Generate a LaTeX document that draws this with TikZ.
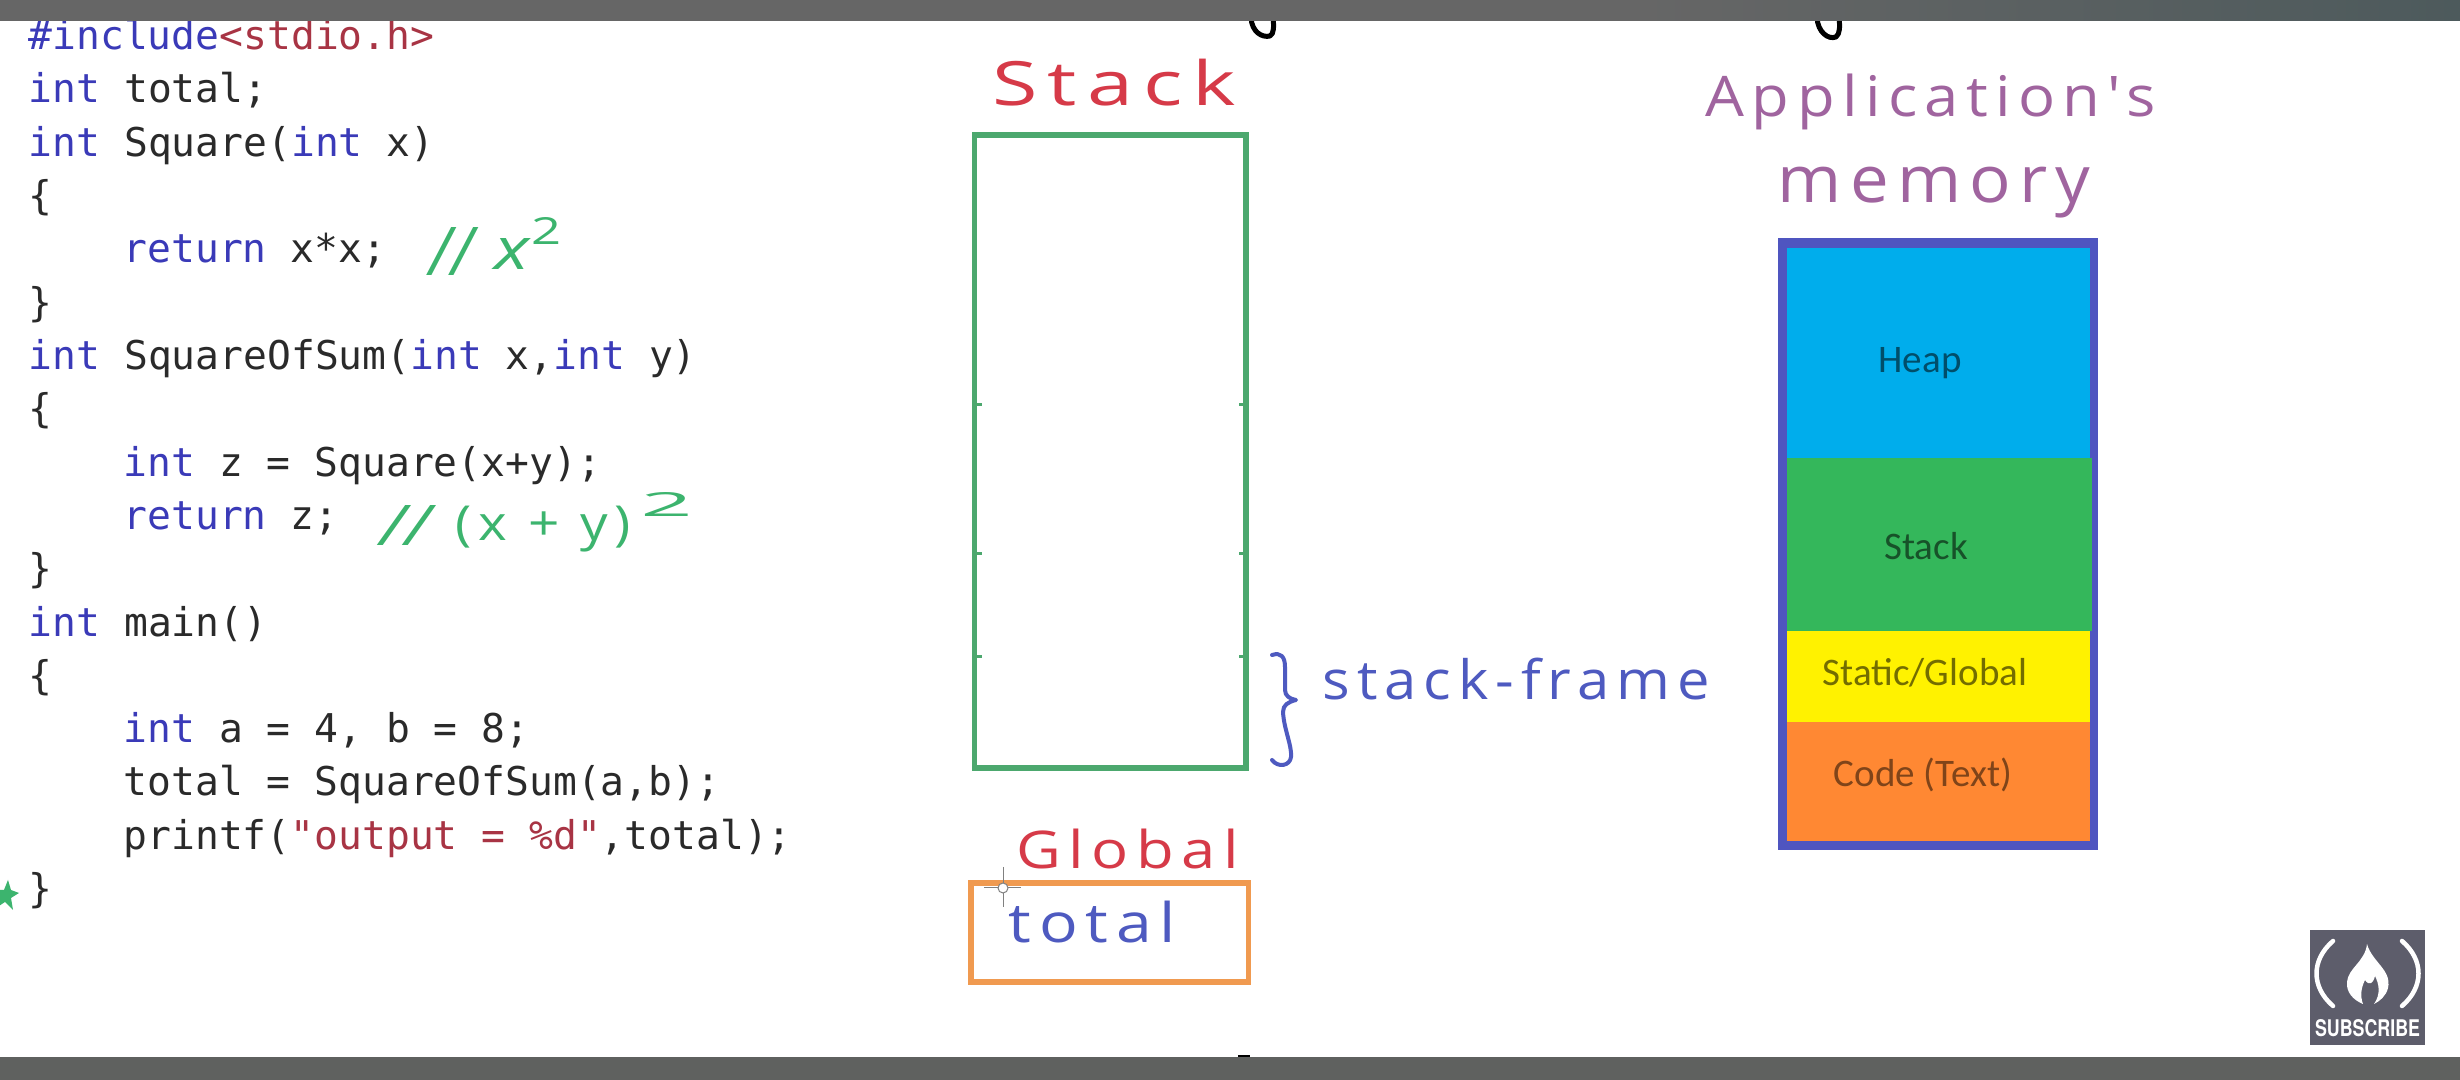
\documentclass[tikz,border=0pt]{standalone}
\usepackage{fontspec}
\setmainfont{Carlito}
\newfontfamily\codefont{DejaVu Sans Mono}
\newfontfamily\handfont[LetterSpace=12]{Open Sans}
\newfontfamily\handplain{Open Sans}
\newfontfamily\badgefont{TeX Gyre Heros}
\definecolor{barc}{HTML}{666666}
\definecolor{barb}{HTML}{5F615F}
\definecolor{barr}{HTML}{4D5A5C}
\definecolor{kw}{HTML}{3A3AB8}
\definecolor{str}{HTML}{A83444}
\definecolor{ink}{HTML}{2A2A2A}
\definecolor{hgreen}{HTML}{3CB46E}
\definecolor{hred}{HTML}{D63A48}
\definecolor{hblue}{HTML}{4E5AC0}
\definecolor{hpurple}{HTML}{A0649F}
\definecolor{bgreen}{HTML}{4CA86E}
\definecolor{borange}{HTML}{F09A50}
\definecolor{mborder}{HTML}{4F55C0}
\definecolor{mheap}{HTML}{00ADEC}
\definecolor{mstack}{HTML}{34B75B}
\definecolor{mstatic}{HTML}{FFF200}
\definecolor{mcode}{HTML}{FF8833}
\definecolor{badge}{HTML}{5D5D6B}
\newlength\pxu \setlength\pxu{0.01cm}
\newcommand{\K}[1]{\textcolor{kw}{#1}}
\newcommand{\Q}[1]{\textcolor{str}{#1}}
\newcommand{\hw}[3]{\resizebox*{#1\pxu}{#2\pxu}{#3}}
\tikzset{
  codeline/.style={anchor=base west,inner sep=0pt,text=ink,font=\codefont\fontsize{11.27pt}{13pt}\selectfont},
  handtext/.style={anchor=north west,inner sep=0pt},
  memlabel/.style={anchor=center,inner sep=0pt,font=\fontsize{11.1pt}{13pt}\selectfont},
  stackbox/.style={draw=bgreen,line width=5.5\pxu},
  globalbox/.style={draw=borange,line width=5.5\pxu},
  tickmark/.style={draw=bgreen,line width=3\pxu},
  blackmark/.style={draw=black,line width=5\pxu,line cap=round,line join=round},
  white paren/.style={draw=white,line width=4.5\pxu,line cap=round}
}
\begin{document}
\begin{tikzpicture}[x=0.01cm,y=-0.01cm]
\useasboundingbox (0,0) rectangle (2460,1080);
\fill[white] (0,0) rectangle (2460,1080);
% code
\node[codeline] (l0) at (28,50) {\K{\#include}\Q{<stdio.h>}};
\node[codeline] (l1) at (28,103) {\K{int} total;};
\node[codeline] (l2) at (28,157) {\K{int} Square(\K{int} x)};
\node[codeline] (l3) at (28,210) {\{};
\node[codeline] (l4) at (123,263) {\K{return} x*x;};
\node[codeline] (l5) at (28,316.5) {\}};
\node[codeline] (l6) at (28,370) {\K{int} SquareOfSum(\K{int} x,\K{int} y)};
\node[codeline] (l7) at (28,423) {\{};
\node[codeline] (l8) at (123,476.5) {\K{int} z = Square(x+y);};
\node[codeline] (l9) at (123,530) {\K{return} z;};
\node[codeline] (l10) at (28,583) {\}};
\node[codeline] (l11) at (28,636.5) {\K{int} main()};
\node[codeline] (l12) at (28,690) {\{};
\node[codeline] (l13) at (123,743) {\K{int} a = 4, b = 8;};
\node[codeline] (l14) at (123,796) {total = SquareOfSum(a,b);};
\node[codeline] (l15) at (123,850) {printf(\Q{"output = \%d"},total);};
\node[codeline] (l16) at (28,903) {\}};
% green notes
\node[handtext,text=hgreen] (n1a) at (429,227) {\hw{44}{48}{\handplain\itshape //}};
\node[handtext,text=hgreen] (n1b) at (494,238) {\hw{35}{31}{\handplain\itshape x}};
\node[handtext,text=hgreen] (n1c) at (531,217) {\hw{30}{27}{\handplain 2}};
\node[handtext,text=hgreen] (n2a) at (380,505) {\hw{50}{40}{\handplain\itshape //}};
\node[handtext,text=hgreen] (n2b) at (455,505) {\hw{175}{46}{\handfont (x + y)}};
\node[handtext,text=hgreen] (n2c) at (640,492) {\hw{52}{24}{\handplain 2}};
\fill[hgreen] (8,880)--(11,890)--(19,893)--(11,898)--(13,910)--(5,902)--(-4,908)--(-2,897)--(-8,890)--(4,890)--cycle;
% stack
\node[handtext,text=hred] (stacktitle) at (992,58) {\hw{243}{47}{\handfont Stack}};
\draw[stackbox] (974.5,135) rectangle (1246,768);
\foreach \yy in {405,554,657}{
  \draw[tickmark] (972,\yy) -- (982,\yy);
  \draw[tickmark] (1239,\yy) -- (1249,\yy);
}
\node[handtext,text=hblue] (frame) at (1322,657) {\hw{387}{42}{\handfont stack-frame}};
\draw[draw=hblue,line width=4\pxu,line cap=round,line join=round]
  (1272,655) .. controls (1281,652) and (1285,657) .. (1285,667)
  -- (1285,690) .. controls (1285,696) and (1290,699) .. (1296,700)
  .. controls (1288,702) and (1283,705) .. (1283,712)
  .. controls (1284,730) and (1292,745) .. (1291,757)
  .. controls (1290,766) and (1278,768) .. (1272,760);
% global
\node[handtext,text=hred] (globaltitle) at (1016,828) {\hw{222}{40}{\handfont Global}};
\draw[globalbox] (971,883) rectangle (1248.5,982);
\node[handtext,text=hblue] (totalv) at (1008,900) {\hw{167}{42}{\handfont total}};
\draw[gray,line width=1\pxu] (984,888) -- (1021,888) (1003,867) -- (1003,907);
\draw[gray,fill=white,line width=1\pxu] (1003,888) circle (5);
% application memory
\node[handtext,text=hpurple] (app) at (1705,73) {\hw{450}{56}{\handfont Application's}};
\node[handtext,text=hpurple] (mem) at (1777,166) {\hw{313}{51}{\handfont memory}};
\fill[mborder] (1778,238) rectangle (2097.5,850);
\fill[mheap] (1787,248) rectangle (2090,458.5);
\fill[mstack] (1787,458.5) rectangle (2092,631);
\fill[mstatic] (1787,631) rectangle (2090,722);
\fill[mcode] (1787,722) rectangle (2090,841.5);
\node[memlabel,text=mheap!45!black] (heap) at (1920,363) {Heap};
\node[memlabel,text=mstack!45!black] (stk) at (1926,546) {Stack};
\node[memlabel,text=mstatic!45!black] (stat) at (1925,673) {Static/Global};
\node[memlabel,text=mcode!50!black] (cod) at (1923,775) {Code (Text)};
% badge
\fill[badge] (2310,930) rectangle (2425,1045);
\draw[white paren] (2333,941) .. controls (2311,960) and (2311,987) .. (2333,1006);
\draw[white paren] (2402,941) .. controls (2424,960) and (2424,987) .. (2402,1006);
\fill[white] (2367,944) .. controls (2372,962) and (2392,970) .. (2388,988)
  .. controls (2386,996) and (2380,1001) .. (2374,1004)
  .. controls (2381,994) and (2379,984) .. (2375,976)
  .. controls (2373,984) and (2369,986) .. (2365,980)
  .. controls (2361,988) and (2360,996) .. (2363,1004)
  .. controls (2353,1000) and (2346,992) .. (2347,982)
  .. controls (2348,968) and (2365,962) .. (2367,944) -- cycle;
\node[anchor=center,inner sep=0pt,text=white] (sub) at (2367.5,1028) {\resizebox{105\pxu}{17\pxu}{\badgefont\bfseries SUBSCRIBE}};
% marks and bars
\draw[blackmark] (1251,18) .. controls (1252,32) and (1262,38) .. (1270,36) .. controls (1274,34) and (1274,26) .. (1273,18);
\draw[blackmark] (1817,18) .. controls (1818,32) and (1828,40) .. (1836,37) .. controls (1840,34) and (1840,26) .. (1839,18);
\fill[barc] (0,0) rectangle (2461,21);
\shade[left color=barc,right color=barr] (1640,0) rectangle (2460,21);
\fill[barb] (0,1057) rectangle (2460,1080);
\fill[black] (1238,1057) rectangle (1250,1055);
\end{tikzpicture}
\end{document}
